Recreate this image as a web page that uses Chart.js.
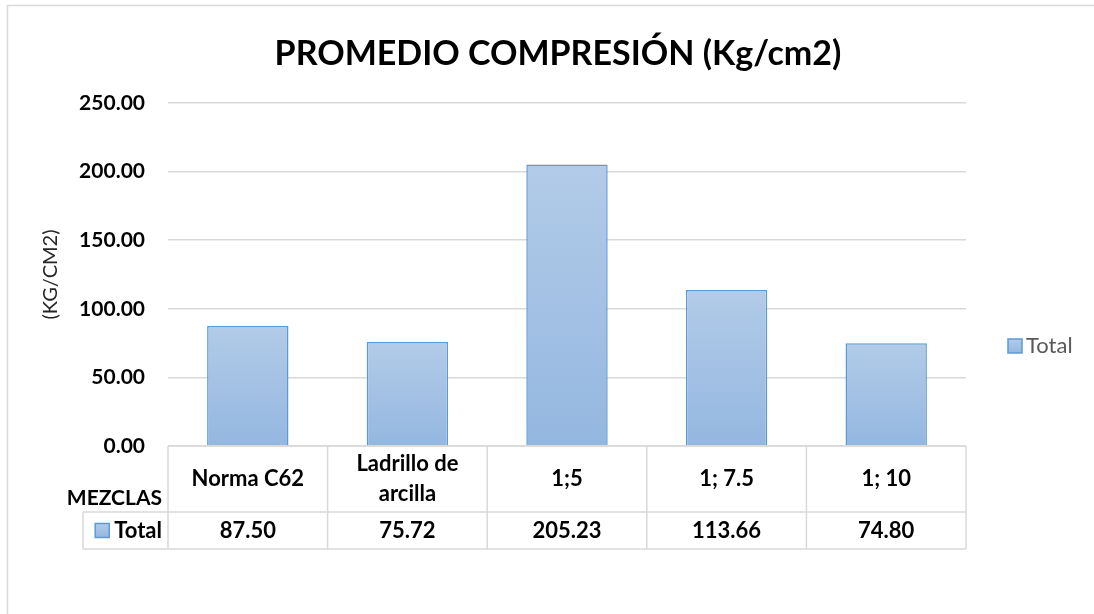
<!DOCTYPE html>
<html>
<head>
<meta charset="utf-8">
<script src="https://cdn.jsdelivr.net/npm/chart.js@4.4.1/dist/chart.umd.min.js"></script>
<style>
  html, body { margin: 0; padding: 0; background: #fff; overflow: hidden; }
  #wrap { width: 1094px; height: 614px; overflow: hidden; }
</style>
</head>
<body>
<div id="wrap"><canvas id="chart" width="1094" height="614"></canvas></div>
<script>
// chart data
const chartTitle = 'PROMEDIO COMPRESIÓN (Kg/cm2)';
const axisTitle = '(KG/CM2)';
const tableHeader = 'MEZCLAS';
const seriesName = 'Total';
const categories = ['Norma C62', ['Ladrillo de', 'arcilla'], '1;5', '1; 7.5', '1; 10'];
const totals = [87.50, 75.72, 205.23, 113.66, 74.80];
const yMin = 0;
const yMax = 250;
const yStep = 50;

const FONT = 'Lato, "Open Sans", sans-serif';
const GRID = '#d9d9d9';
const BAR_EDGE = '#5b9bd5';

// vertical gradient for each bar, light at the top
function barFill(context) {
    const chart = context.chart;
    const y = chart.scales.y;
    if (!chart.chartArea || !y) return '#a3c1e6';
    const top = y.getPixelForValue(context.raw);
    const base = y.getPixelForValue(0);
    if (!isFinite(top) || !isFinite(base) || top === base) return '#a3c1e6';
    const g = chart.ctx.createLinearGradient(0, top, 0, base);
    g.addColorStop(0, '#b2cbe8');
    g.addColorStop(1, '#94b7e0');
    return g;
}

function legendSwatch(ctx, x, y, size) {
    const g = ctx.createLinearGradient(0, y, 0, y + size);
    g.addColorStop(0, '#b2cbe8');
    g.addColorStop(1, '#94b7e0');
    ctx.fillStyle = g;
    ctx.fillRect(x, y, size, size);
    ctx.strokeStyle = BAR_EDGE;
    ctx.lineWidth = 1.5;
    ctx.strokeRect(x, y, size, size);
}

// Excel style data table under the plot, plus frame, title and legend
const dataTablePlugin = {
    id: 'dataTable',
    beforeDraw(chart) {
        // only the top and left edges of the chart frame are in view
        const ctx = chart.ctx;
        ctx.save();
        ctx.strokeStyle = GRID;
        ctx.lineWidth = 1.5;
        ctx.beginPath();
        ctx.moveTo(7.5, chart.height);
        ctx.lineTo(7.5, 5.5);
        ctx.lineTo(chart.width, 5.5);
        ctx.stroke();
        ctx.restore();
    },
    afterDraw(chart) {
        const ctx = chart.ctx;
        const area = chart.chartArea;
        const xs = chart.scales.x;
        const n = categories.length;
        const centers = categories.map((c, i) => xs.getPixelForValue(i));
        const colW = n > 1 ? centers[1] - centers[0] : area.right - area.left;
        const edges = centers.map(c => c - colW / 2);
        edges.push(centers[n - 1] + colW / 2);

        const top = area.bottom;
        const mid = top + 66;
        const bottom = mid + 37;
        const labelLeft = 83;

        ctx.save();
        // title
        ctx.fillStyle = '#000';
        ctx.font = 'bold 34px ' + FONT;
        ctx.textAlign = 'center';
        ctx.textBaseline = 'middle';
        ctx.fillText(chartTitle, 558, 54);

        // table grid
        ctx.strokeStyle = GRID;
        ctx.lineWidth = 1.5;
        ctx.beginPath();
        ctx.moveTo(edges[0], top); ctx.lineTo(edges[n], top);
        ctx.moveTo(labelLeft, mid); ctx.lineTo(edges[n], mid);
        ctx.moveTo(labelLeft, bottom); ctx.lineTo(edges[n], bottom);
        ctx.moveTo(labelLeft, mid); ctx.lineTo(labelLeft, bottom);
        edges.forEach(x => { ctx.moveTo(x, top); ctx.lineTo(x, bottom); });
        ctx.stroke();

        ctx.fillStyle = '#000';
        ctx.font = 'bold 22px ' + FONT;
        categories.forEach((cat, i) => {
            const lines = Array.isArray(cat) ? cat : [cat];
            const lh = 30;
            const y0 = (top + mid) / 2 - (lines.length - 1) * lh / 2;
            lines.forEach((ln, k) => ctx.fillText(ln, centers[i], y0 + k * lh));
            ctx.fillText(totals[i].toFixed(2), centers[i], (mid + bottom) / 2);
        });

        ctx.textAlign = 'right';
        ctx.fillText(seriesName, edges[0] - 6, (mid + bottom) / 2);
        ctx.font = 'bold 21px ' + FONT;
        ctx.fillText(tableHeader, edges[0] - 6, mid - 14);
        ctx.font = 'bold 22px ' + FONT;
        const tw = ctx.measureText(seriesName).width;
        legendSwatch(ctx, edges[0] - 6 - tw - 19, (mid + bottom) / 2 - 7, 14);

        // legend on the right
        const ly = 346;
        legendSwatch(ctx, 1008, ly - 7, 14);
        ctx.textAlign = 'left';
        ctx.fillStyle = '#595959';
        ctx.font = '22px ' + FONT;
        ctx.fillText(seriesName, 1026, ly);
        ctx.restore();
    }
};

new Chart(document.getElementById('chart'), {
    type: 'bar',
    data: {
        labels: categories,
        datasets: [{
            label: seriesName,
            data: totals,
            backgroundColor: barFill,
            borderColor: BAR_EDGE,
            borderWidth: 1.5,
            barPercentage: 0.51,
            categoryPercentage: 1
        }]
    },
    options: {
        responsive: false,
        animation: false,
        layout: {
            padding: { left: 0, right: 128, top: 103, bottom: 168 }
        },
        plugins: {
            legend: { display: false },
            tooltip: { enabled: false },
            title: { display: false }
        },
        scales: {
            x: {
                display: false
            },
            y: {
                min: yMin,
                max: yMax,
                afterFit(scale) { scale.width = 168; },
                ticks: {
                    stepSize: yStep,
                    padding: 23,
                    color: '#000',
                    font: { family: FONT, size: 21, weight: 'bold' },
                    callback: v => Number(v).toFixed(2)
                },
                grid: { color: GRID, lineWidth: 1.5, drawTicks: false },
                border: { display: false },
                title: {
                    display: true,
                    text: axisTitle,
                    color: '#262626',
                    font: { family: FONT, size: 20 },
                    padding: { top: 39, bottom: 0 }
                }
            }
        }
    },
    plugins: [dataTablePlugin]
});
</script>
</body>
</html>
